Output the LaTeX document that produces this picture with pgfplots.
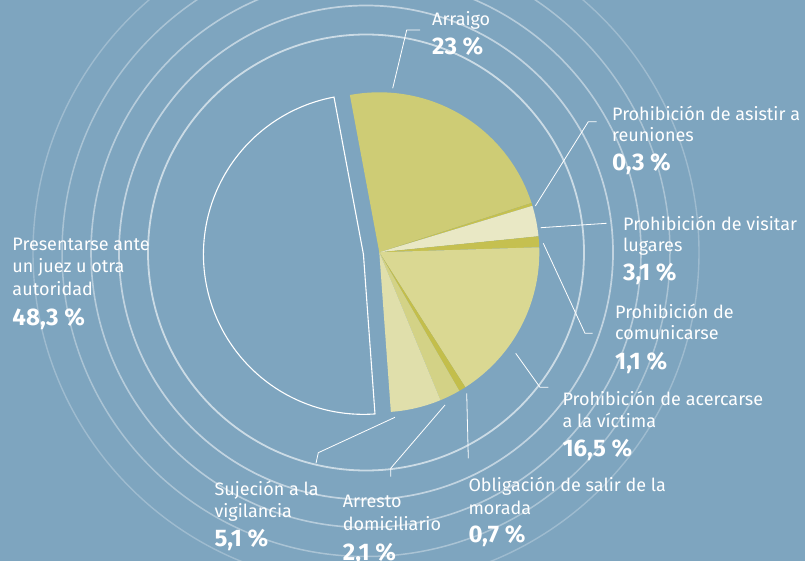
\documentclass[border=0pt]{standalone}
\usepackage{pgfplots}
\pgfplotsset{compat=1.18}
\usepackage{pgfplotstable}
\usepackage{fontspec}
\setmainfont{Fira Sans}

\definecolor{bgc}{RGB}{126,165,191}
\definecolor{pc0}{RGB}{206,204,117}
\definecolor{pc1}{RGB}{196,192,80}
\definecolor{pc2}{RGB}{233,232,197}
\definecolor{pc3}{RGB}{197,192,80}
\definecolor{pc4}{RGB}{218,216,146}
\definecolor{pc5}{RGB}{195,190,75}
\definecolor{pc6}{RGB}{211,210,134}
\definecolor{pc7}{RGB}{224,223,171}

\pgfplotstableread{
label value
Arraigo 23
Asistir 0.3
Visitar 3.1
Comunicarse 1.1
Acercarse 16.5
Obligacion 0.7
Arresto 2.1
Sujecion 5.1
Presentarse 48.3
}\piedata

\newcommand\lbl[3]{\node[anchor=base west, text=white, inner sep=0pt, font=\fontsize{18}{21}\selectfont] at (axis cs:#1,#2) {#3};}
\newcommand\num[3]{\node[anchor=base west, text=white, inner sep=0pt, font=\fontsize{24}{28}\selectfont\bfseries] at (axis cs:#1,#2) {#3};}

\begin{document}
\begin{tikzpicture}
\pgfmathsetmacro\total{100.2}
\xdef\cur{100.6}
\foreach \i in {0,...,8}{
  \pgfplotstablegetelem{\i}{value}\of\piedata
  \pgfmathsetmacro\nxt{\cur-\pgfplotsretval/\total*360}
  \expandafter\xdef\csname pieS\i\endcsname{\cur}
  \expandafter\xdef\csname pieE\i\endcsname{\nxt}
  \xdef\cur{\nxt}
}
\pgfmathsetmacro\midP{(\csname pieS8\endcsname+\csname pieE8\endcsname)/2}
\pgfmathsetmacro\pcx{379.3+16*cos(\midP)}
\pgfmathsetmacro\pcy{252.3-16*sin(\midP)}

\begin{axis}[
  width=805pt, height=561pt, scale only axis,
  xmin=0, xmax=805, ymin=0, ymax=561, y dir=reverse,
  axis lines=none, ticks=none, enlargelimits=false,
  axis background/.style={fill=bgc},
  clip=true,
]
\coordinate (bl) at (axis cs:0,561);
\coordinate (tr) at (axis cs:805,0);

% concentric rings
\draw[white, opacity=0.6, line width=1.8pt] (axis cs:366,252.5) circle[radius=218pt];
\draw[white, opacity=0.52, line width=1.7pt] (axis cs:366,252.5) circle[radius=247pt];
\draw[white, opacity=0.44, line width=1.6pt] (axis cs:366,252.5) circle[radius=275pt];
\draw[white, opacity=0.34, line width=1.5pt] (axis cs:366,252.5) circle[radius=304pt];
\draw[white, opacity=0.25, line width=1.4pt] (axis cs:366,252.5) circle[radius=333pt];

% pie slices
\pgfplotsinvokeforeach{0,...,7}{
  \edef\piecmd{\noexpand\addplot[draw=none, fill=pc#1, domain=\csname pieE#1\endcsname:\csname pieS#1\endcsname, samples=80] ({379.3+160*cos(x)},{252.3-160*sin(x)}) -- (axis cs:379.3,252.3) -- cycle;}
  \piecmd
}
\edef\piecmd{\noexpand\addplot[draw=white, line width=1.1pt, fill=none, domain=\csname pieE8\endcsname:\csname pieS8\endcsname, samples=150] ({\pcx+160*cos(x)},{\pcy-160*sin(x)}) -- (axis cs:\pcx,\pcy) -- cycle;}
\piecmd

% leader lines
\addplot[white, line width=0.8pt] coordinates {(392.7,88.3) (406.7,30) (420,30)};
\addplot[white, line width=0.8pt] coordinates {(535.3,206) (588.3,121.7) (596.7,121.7)};
\addplot[white, line width=0.8pt] coordinates {(540.7,227.7) (606.7,223.3)};
\addplot[white, line width=0.8pt] coordinates {(543.3,243.3) (585,333.3) (592.7,333.3)};
\addplot[white, line width=0.8pt] coordinates {(515.7,353.3) (540,387.3) (548.3,387.3)};
\addplot[white, line width=0.8pt] coordinates {(466.7,393.3) (468.3,458.3)};
\addplot[white, line width=0.8pt] coordinates {(445,405) (390.7,468.3) (390.7,476.7)};
\addplot[white, line width=0.8pt] coordinates {(395,417.3) (318.3,452.7) (316,463.3)};

% labels
\lbl{432}{26}{Arraigo}
\num{432}{54.3}{23 \%}
\lbl{612}{120.7}{Prohibición de asistir a}
\lbl{612}{141.7}{reuniones}
\num{612}{170.7}{0,3 \%}
\lbl{623}{230.7}{Prohibición de visitar}
\lbl{623}{251.7}{lugares}
\num{623}{280}{3,1 \%}
\lbl{615}{318.3}{Prohibición de}
\lbl{615}{339.3}{comunicarse}
\num{615}{369}{1,1 \%}
\lbl{562.3}{405}{Prohibición de acercarse}
\lbl{562.3}{427.3}{a la víctima}
\num{562.3}{456.5}{16,5 \%}
\lbl{468.3}{491.7}{Obligación de salir de la}
\lbl{468.3}{514}{morada}
\num{468.3}{542.7}{0,7 \%}
\lbl{342.7}{507.7}{Arresto}
\lbl{342.7}{530}{domiciliario}
\num{342.7}{560}{2,1 \%}
\lbl{214.3}{495}{Sujeción a la}
\lbl{214.3}{517.7}{vigilancia}
\num{214.3}{546}{5,1 \%}
\lbl{12.3}{250.7}{Presentarse ante}
\lbl{12.3}{272.7}{un juez u otra}
\lbl{12.3}{295}{autoridad}
\num{12.3}{325}{48,3 \%}
\end{axis}
\pgfresetboundingbox
\path[use as bounding box] (bl) rectangle (tr);
\end{tikzpicture}
\end{document}
